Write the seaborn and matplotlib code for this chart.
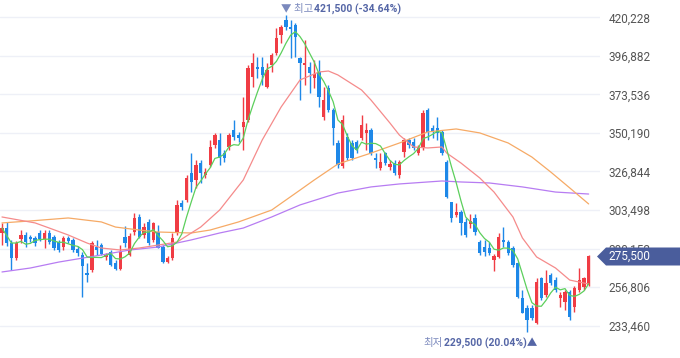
import numpy as np
import pandas as pd
import matplotlib
matplotlib.use("Agg")
import matplotlib.pyplot as plt
import seaborn as sns
from matplotlib.patches import Polygon

# Daily candles, prices in thousand won
opens = [289.6, 292.6, 283.5, 274.5, 286.0, 288.4, 287.2, 286.6, 289.6, 286.0,
         289.6, 287.2, 284.1, 281.1, 286.6, 285.4, 279.9, 276.3, 265.4, 267.2,
         281.1, 282.3, 275.1, 278.1, 271.4, 267.8, 287.2, 276.3, 290.2, 299.3,
         288.4, 296.3, 285.4, 290.2, 281.1, 272.0, 274.5, 289.6, 307.8, 309.6,
         325.9, 321.7, 332.0, 324.7, 330.8, 342.9, 345.9, 338.0, 341.7, 352.0,
         348.9, 353.8, 358.0, 384.1, 390.1, 390.1, 378.0, 391.3, 398.6, 409.5,
         418.6, 414.3, 415.6, 395.6, 391.3, 390.1, 383.5, 387.1, 359.8, 377.4,
         364.1, 344.1, 330.2, 347.7, 344.1, 344.7, 347.1, 350.2, 352.0, 335.0,
         329.0, 338.0, 329.6, 332.0, 324.7, 338.6, 345.9, 344.7, 338.0, 341.1,
         364.1, 353.2, 353.2, 350.8, 332.6, 308.4, 300.5, 302.3, 296.3, 295.0,
         298.7, 284.1, 281.1, 280.5, 273.2, 275.1, 285.4, 284.1, 280.5, 271.4,
         250.2, 244.2, 244.2, 235.1, 262.3, 252.0, 264.2, 261.1, 250.2, 247.8,
         253.9, 244.8, 255.1, 256.9, 258.1]
highs = [295.7, 296.3, 285.4, 284.8, 291.4, 290.2, 288.4, 287.8, 291.4, 291.4,
         291.4, 288.4, 285.4, 287.8, 287.8, 286.6, 281.7, 278.1, 271.4, 284.8,
         285.4, 283.5, 277.5, 279.3, 273.2, 282.3, 293.8, 289.6, 301.7, 301.1,
         295.7, 298.0, 296.3, 294.4, 282.3, 275.7, 289.6, 309.6, 309.6, 324.7,
         338.0, 333.8, 333.8, 329.0, 345.9, 350.2, 350.2, 339.9, 350.2, 358.0,
         350.8, 372.0, 391.3, 398.6, 396.2, 396.2, 392.5, 398.6, 413.7, 415.6,
         421.5, 418.6, 416.8, 396.2, 406.5, 393.2, 394.4, 394.4, 378.0, 379.2,
         365.3, 345.9, 361.1, 350.2, 345.9, 345.9, 361.1, 356.2, 353.2, 338.0,
         338.0, 338.6, 333.8, 333.8, 333.8, 347.1, 347.1, 347.1, 342.9, 364.1,
         365.3, 355.0, 359.8, 352.0, 333.8, 308.4, 307.8, 303.5, 298.7, 301.1,
         301.1, 285.4, 285.4, 284.1, 276.9, 289.6, 293.2, 285.4, 281.7, 272.0,
         255.1, 246.0, 246.0, 262.3, 262.9, 267.2, 265.4, 262.9, 253.9, 255.1,
         255.1, 257.5, 268.4, 262.9, 276.0]
lows = [282.3, 281.7, 267.2, 273.2, 283.5, 281.1, 284.1, 281.7, 284.8, 280.5,
        283.0, 279.3, 278.1, 279.3, 283.5, 278.1, 275.7, 250.8, 259.9, 266.0,
        276.3, 276.3, 273.2, 269.6, 267.2, 267.2, 281.1, 275.7, 288.4, 286.6,
        286.6, 282.3, 284.1, 280.5, 271.4, 271.4, 273.2, 288.4, 303.5, 308.4,
        314.4, 316.8, 319.9, 322.9, 329.6, 341.1, 330.8, 332.6, 339.9, 345.9,
        344.7, 339.9, 356.8, 378.0, 383.5, 379.2, 377.4, 387.1, 397.4, 404.7,
        412.5, 395.6, 396.2, 370.1, 379.2, 374.4, 377.4, 365.9, 358.0, 362.9,
        342.9, 329.0, 329.0, 333.8, 333.8, 338.0, 345.9, 339.9, 336.8, 329.0,
        327.8, 330.8, 327.8, 324.7, 322.9, 335.6, 341.1, 339.9, 336.8, 339.9,
        345.9, 347.1, 345.9, 336.8, 310.8, 296.3, 299.3, 288.4, 287.2, 292.6,
        288.4, 276.3, 275.7, 276.3, 266.6, 274.5, 281.1, 276.3, 269.0, 250.2,
        241.1, 229.5, 236.9, 234.5, 249.0, 250.8, 258.1, 253.9, 244.8, 243.0,
        236.9, 241.7, 253.9, 255.1, 257.5]
closes = [292.6, 283.5, 274.5, 283.5, 288.4, 284.1, 286.0, 283.5, 286.0, 289.6,
          284.1, 280.5, 279.3, 286.6, 284.8, 279.3, 277.5, 269.6, 264.2, 283.5,
          279.3, 276.9, 276.3, 270.2, 267.8, 278.1, 283.5, 287.8, 298.7, 287.2,
          293.2, 283.5, 295.7, 280.5, 272.0, 274.5, 286.6, 306.6, 305.3, 322.9,
          320.5, 330.8, 325.9, 326.5, 341.7, 348.9, 335.0, 335.0, 348.9, 347.7,
          347.1, 356.8, 389.5, 392.5, 388.9, 385.3, 388.3, 397.4, 407.7, 414.3,
          414.3, 413.1, 408.3, 392.5, 392.5, 386.5, 385.9, 372.0, 370.1, 364.1,
          353.2, 330.8, 358.0, 335.0, 335.0, 339.9, 355.0, 352.0, 338.0, 333.8,
          332.6, 332.0, 331.4, 325.9, 332.6, 345.9, 342.9, 341.1, 341.7, 362.3,
          350.8, 350.8, 350.2, 338.0, 311.4, 298.7, 302.3, 295.7, 288.4, 296.9,
          290.2, 277.5, 278.1, 277.5, 275.7, 287.2, 284.1, 277.5, 270.2, 250.8,
          241.1, 236.9, 238.1, 259.9, 250.2, 259.3, 259.3, 255.1, 252.0, 253.9,
          238.7, 256.3, 261.1, 262.3, 275.5]

# moving averages (candle index, value)
ma20_idx = [0, 7, 10, 14, 18, 21, 25, 29, 33, 37, 40, 42, 46, 51, 55, 59, 63, 67, 69,
            71, 76, 78, 82, 84, 87, 90, 93, 94, 97, 101, 104, 108, 110, 113, 117, 120, 124]
ma20_val = [299.3, 295.7, 292.6, 288.4, 283.5, 280.5, 279.3, 280.5, 282.3, 284.1, 289.6,
            293.2, 303.5, 321.7, 345.9, 365.9, 382.3, 387.1, 387.7, 385.3, 376.2, 370.1,
            356.2, 348.9, 341.7, 341.1, 341.7, 338.0, 332.0, 322.9, 314.4, 299.3, 286.6,
            275.1, 268.4, 261.1, 258.7]
ma60_idx = [0, 6, 14, 21, 24, 29, 33, 40, 44, 50, 57, 63, 66, 71, 78, 84, 90, 96,
            101, 107, 112, 116, 120, 124]
ma60_val = [295.7, 296.9, 298.7, 296.3, 293.2, 291.4, 290.2, 289.6, 291.4, 296.3, 303.5,
            315.6, 321.7, 331.4, 338.0, 344.1, 350.8, 352.6, 350.2, 344.1, 335.6, 326.5,
            316.9, 307.2]
ma120_idx = [0, 6, 12, 21, 27, 33, 40, 46, 51, 57, 63, 71, 78, 84, 93, 97, 103, 110, 117, 124]
ma120_val = [266.0, 268.4, 272.0, 276.3, 279.3, 281.1, 285.4, 289.6, 292.6, 299.3, 306.6,
             313.8, 317.5, 319.3, 321.1, 320.5, 319.9, 317.5, 314.4, 313.2]

tick_vals = [233460, 256806, 280152, 303498, 326844, 350190, 373536, 396882, 420228]
last_price = 275500

sns.set_theme(style="white")
plt.rcParams['font.family'] = ['Roboto', 'Noto Sans CJK KR', 'DejaVu Sans']

df = pd.DataFrame({'open': opens, 'high': highs, 'low': lows, 'close': closes})
df['idx'] = np.arange(len(df))
df['ma5'] = df['close'].rolling(5, min_periods=1).mean()

RED = '#f03c44'
BLUE = '#1e88e8'
colors = np.where(df['close'] >= df['open'], RED, BLUE)

fig = plt.figure(figsize=(6.8, 3.58), dpi=100)
ax = fig.add_axes([0, 0, 600 / 680, 1])

# candles
ax.vlines(df['idx'], df['low'], df['high'], colors=colors, lw=1, zorder=3)
body = (df['close'] - df['open']).abs().clip(lower=0.6)
ax.bar(df['idx'], body, bottom=np.minimum(df['open'], df['close']),
       width=0.7, color=colors, linewidth=0, zorder=4)

# moving averages
sns.lineplot(x=ma120_idx, y=ma120_val, ax=ax, color='#b77cf2', lw=0.9, zorder=5)
sns.lineplot(x=ma60_idx, y=ma60_val, ax=ax, color='#f6aa66', lw=0.9, zorder=5)
sns.lineplot(x=ma20_idx, y=ma20_val, ax=ax, color='#f58b8b', lw=0.9, zorder=5)
sns.lineplot(x=df['idx'], y=df['ma5'], ax=ax, color='#5ccf5c', lw=0.9, zorder=6)

ax.set_xlim(-0.42, 126.4)
ax.set_ylim(213.9, 430.7)
ax.set_yticks([v / 1000 for v in tick_vals])
ax.set_yticklabels([f"{v:,}" for v in tick_vals])
ax.yaxis.tick_right()
ax.tick_params(axis='y', length=0, pad=6, labelsize=8.5, labelcolor='#555555')
ax.set_xticks([])
ax.grid(axis='y', color='#eef0f7', lw=1)
ax.set_axisbelow(True)
for s in ax.spines.values():
    s.set_visible(False)
ax.set_xlabel('')
ax.set_ylabel('')

# high / low markers
ax.text(58.9, 425.3, "▼ 최고", fontsize=7.5, color='#7b89bd', ha='left', va='center')
ax.text(65.95, 425.3, "421,500 (-34.64%)", fontsize=7.5, color='#5566a6',
        fontweight='bold', ha='left', va='center')
ax.text(89.0, 223.0, "최저", fontsize=7.5, color='#7b89bd', ha='left', va='center')
ax.text(93.4, 223.0, "229,500 (20.04%)▲", fontsize=7.5, color='#5566a6',
        fontweight='bold', ha='left', va='center')

# last price tag
W, H = 680, 358
yc = 101.5
tag = Polygon([(597 / W, yc / H), (606 / W, (yc + 9) / H), (680 / W, (yc + 9) / H),
               (680 / W, (yc - 9) / H), (606 / W, (yc - 9) / H)],
              closed=True, transform=fig.transFigure, facecolor='#4a5d9c',
              edgecolor='none', zorder=10)
fig.patches.append(tag)
fig.text(608 / W, yc / H, f"{last_price:,}", color='white', fontsize=8.5,
         ha='left', va='center', zorder=11)

fig.savefig('out.png', dpi=100, facecolor='white')
